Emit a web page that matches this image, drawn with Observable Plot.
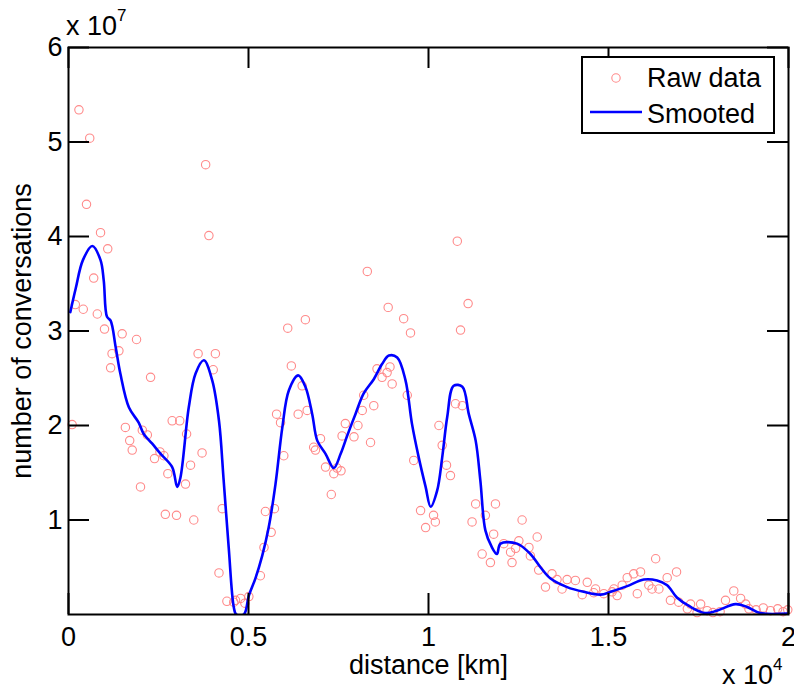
<!DOCTYPE html>
<html><head><meta charset="utf-8">
<script src="https://cdn.jsdelivr.net/npm/d3@7"></script>
<script src="https://cdn.jsdelivr.net/npm/@observablehq/plot@0.6"></script>
<style>
body{margin:0;background:#fff;}
#wrap{position:relative;width:794px;height:689px;font-family:"Liberation Sans",Arial,sans-serif;background:#fff;}
.note{position:absolute;font-size:27px;color:#000;line-height:1;white-space:nowrap;}
.note sup{font-size:17px;vertical-align:0;position:relative;top:-14px;}
</style></head><body><div id="wrap"></div>
<script>
// Raw data: distance in km, number of conversations
const rawDistance = [
  100,190,290,410,500,590,700,800,890,1000,
  1090,1170,1210,1400,1490,1580,1700,1770,1890,2000,
  2050,2190,2280,2390,2540,2650,2690,2760,2880,3000,
  3090,3250,3280,3390,3480,3600,3710,3810,3900,4020,
  4080,4180,4270,4400,4590,4640,4780,4900,5010,5330,
  5430,5470,5630,5720,5780,5890,5980,6090,6190,6380,
  6490,6580,6630,6810,6860,7000,7140,7300,7370,7460,
  7570,7600,7690,7930,8040,8160,8200,8300,8390,8480,
  8570,8710,8850,8880,8930,8990,9310,9410,9500,9590,
  9780,9920,10140,10190,10290,10380,10500,10610,10750,10800,
  10890,10940,11100,11210,11310,11490,11580,11720,11810,11860,
  12090,12280,12320,12420,12510,12600,12790,12830,13020,13060,
  13250,13430,13570,13710,13850,14080,14270,14410,14590,14640,
  14870,15100,15150,15240,15380,15520,15700,15800,15890,16120,
  16210,16310,16400,16630,16720,16890,16950,17190,17280,17460,
  17560,17740,17900,18100,18250,18480,18670,18810,18900,19100,
  19300,19500,19700,19850,19980
];
const rawConversations = [
  2.01e7,3.28e7,5.34e7,3.23e7,4.34e7,5.04e7,3.56e7,3.18e7,4.04e7,3.02e7,
  3.87e7,2.61e7,2.76e7,2.79e7,2.97e7,1.98e7,1.84e7,1.74e7,2.91e7,1.35e7,
  1.95e7,1.90e7,2.51e7,1.65e7,1.72e7,1.68e7,1.06e7,1.49e7,2.05e7,1.05e7,
  2.05e7,1.38e7,1.91e7,1.58e7,1.00e7,2.76e7,1.71e7,4.76e7,4.01e7,2.59e7,
  2.76e7,0.44e7,1.12e7,0.14e7,0.13e7,0.15e7,0.17e7,0.12e7,0.19e7,0.41e7,
  0.71e7,1.09e7,0.87e7,1.12e7,2.12e7,2.03e7,1.68e7,3.03e7,2.63e7,2.12e7,
  2.42e7,3.12e7,2.16e7,1.77e7,1.74e7,1.86e7,1.56e7,1.27e7,1.49e7,1.55e7,
  1.52e7,1.89e7,2.02e7,1.88e7,2.00e7,2.16e7,2.32e7,3.63e7,1.82e7,2.21e7,
  2.60e7,2.51e7,2.56e7,3.25e7,2.62e7,2.44e7,3.13e7,2.32e7,2.98e7,1.63e7,
  1.10e7,0.92e7,1.05e7,0.98e7,2.00e7,1.79e7,1.58e7,1.47e7,2.23e7,3.95e7,
  3.01e7,2.21e7,3.29e7,0.98e7,1.17e7,0.64e7,1.05e7,0.55e7,0.85e7,1.17e7,
  0.75e7,0.66e7,0.55e7,0.70e7,0.78e7,1.00e7,0.71e7,0.62e7,0.82e7,0.47e7,
  0.29e7,0.43e7,0.37e7,0.27e7,0.37e7,0.36e7,0.21e7,0.34e7,0.23e7,0.27e7,
  0.22e7,0.24e7,0.27e7,0.20e7,0.31e7,0.39e7,0.43e7,0.22e7,0.45e7,0.31e7,
  0.27e7,0.59e7,0.27e7,0.39e7,0.15e7,0.45e7,0.13e7,0.06e7,0.11e7,0.02e7,
  0.11e7,0.04e7,0.02e7,0.03e7,0.15e7,0.25e7,0.17e7,0.11e7,0.06e7,0.05e7,
  0.07e7,0.04e7,0.06e7,0.03e7,0.05e7
];
// Smoothed curve
const smoothDistance = [
  50,200,400,660,890,980,1070,1170,1310,1440,1680,1950,2090,2320,2560,2880,3020,3110,3340,3530,
  3760,3990,4180,4310,4450,4590,4660,4870,5010,5190,5380,5560,5750,5940,6120,6380,6580,6770,6910,7140,
  7370,7560,7740,7970,8200,8480,8710,8900,9130,9360,9540,9730,9920,10060,10240,10380,10520,10700,10940,11120,
  11310,11440,11580,11750,11900,12000,12460,12830,13110,13390,13850,14310,14780,15060,15520,15980,16350,16630,16900,17280,
  17690,18010,18530,18850,19220,19960
];
const smoothConversations = [
  3.20e7,3.45e7,3.75e7,3.90e7,3.75e7,3.53e7,3.15e7,3.11e7,2.83e7,2.55e7,2.19e7,2.03e7,1.91e7,1.81e7,1.70e7,1.56e7,1.35e7,1.45e7,2.19e7,2.55e7,
  2.69e7,2.48e7,2.05e7,1.42e7,0.71e7,0.08e7,0.00e7,0.00e7,0.20e7,0.38e7,0.62e7,0.92e7,1.38e7,1.98e7,2.37e7,2.53e7,2.41e7,2.12e7,1.84e7,1.70e7,
  1.55e7,1.70e7,1.89e7,2.12e7,2.34e7,2.49e7,2.65e7,2.74e7,2.72e7,2.48e7,2.02e7,1.66e7,1.35e7,1.14e7,1.31e7,1.66e7,2.09e7,2.42e7,2.41e7,2.12e7,
  1.84e7,1.42e7,0.89e7,0.72e7,0.64e7,0.75e7,0.75e7,0.64e7,0.50e7,0.38e7,0.29e7,0.24e7,0.21e7,0.24e7,0.30e7,0.37e7,0.36e7,0.31e7,0.18e7,0.08e7,
  0.015e7,0.04e7,0.11e7,0.08e7,0.015e7,0.01e7
];
const xTicks = [0, 5000, 10000, 15000, 20000];
const yTicks = [1e7, 2e7, 3e7, 4e7, 5e7, 6e7];
const xLabel = "distance [km]";
const yLabel = "number of conversations";
const legendLabels = ["Raw data", "Smooted"];

const raw = rawDistance.map((d, i) => ({d, c: rawConversations[i]}));
const smooth = smoothDistance.map((d, i) => ({d, c: smoothConversations[i]}));

const FONT = "Liberation Sans, Arial, sans-serif";
const W = 794, H = 689, ML = 68, MR = 6, MT = 47, MB = 75;
const TICK = 21;
const frameW = W - ML - MR, frameH = H - MT - MB;
const plot = Plot.plot({
  width: W, height: H,
  marginLeft: ML, marginRight: MR, marginTop: MT, marginBottom: MB,
  style: {fontFamily: FONT, fontSize: "27px", color: "#000", background: "#fff"},
  x: {domain: [0, 20000]},
  y: {domain: [0, 6e7]},
  marks: [
    Plot.dot(raw, {x: "d", y: "c", r: 4.2, stroke: "#ff8a8a", strokeWidth: 1.1, fill: "none"}),
    Plot.line(smooth, {x: "d", y: "c", stroke: "#0000ff", strokeWidth: 2.6, curve: "catmull-rom", clip: true}),
    // inward ticks: dashed grid lines that only show a short stroke at each end
    Plot.gridX({ticks: xTicks, stroke: "#000", strokeOpacity: 1, strokeWidth: 2,
      strokeDasharray: `${TICK},${frameH - 2 * TICK},${TICK}`}),
    Plot.gridY({ticks: yTicks, stroke: "#000", strokeOpacity: 1, strokeWidth: 2,
      strokeDasharray: `${TICK},${frameW - 2 * TICK},${TICK}`}),
    // tick labels
    Plot.axisX({anchor: "bottom", ticks: xTicks, tickSize: 0, tickPadding: 12, tickFormat: d => String(d / 1e4), label: null, fontSize: 27}),
    Plot.axisY({anchor: "left", ticks: yTicks, tickSize: 0, tickPadding: 6, tickFormat: d => String(d / 1e7), label: null, fontSize: 27}),
    Plot.frame({stroke: "#000", strokeWidth: 2}),
    Plot.text([xLabel], {text: d => d, frameAnchor: "bottom", dy: 40, lineAnchor: "top", textAnchor: "middle", fontSize: 27}),
    Plot.text([yLabel], {text: d => d, frameAnchor: "left", rotate: -90, dx: -46, lineAnchor: "middle", textAnchor: "middle", fontSize: 27})
  ]
});
const wrap = document.getElementById("wrap");
wrap.appendChild(plot);

const n1 = document.createElement("div");
n1.className = "note"; n1.style.left = "66px"; n1.style.top = "13px";
n1.innerHTML = "x 10<sup>7</sup>";
wrap.appendChild(n1);
const n2 = document.createElement("div");
n2.className = "note"; n2.style.left = "722px"; n2.style.top = "662px";
n2.innerHTML = "x 10<sup>4</sup>";
wrap.appendChild(n2);

// legend
const ns = "http://www.w3.org/2000/svg";
const lg = document.createElementNS(ns, "svg");
lg.setAttribute("width", 196); lg.setAttribute("height", 80);
lg.style.position = "absolute"; lg.style.left = "581px"; lg.style.top = "56px";
lg.innerHTML = `<rect x="1" y="1" width="192" height="76" fill="#fff" stroke="#000" stroke-width="2"/>
<circle cx="35" cy="22" r="4.2" fill="none" stroke="#ff8a8a" stroke-width="1.1"/>
<line x1="9" x2="61" y1="56" y2="56" stroke="#0000ff" stroke-width="2.6"/>
<text x="66" y="31" font-family="${FONT}" font-size="27">${legendLabels[0]}</text>
<text x="66" y="67" font-family="${FONT}" font-size="27">${legendLabels[1]}</text>`;
wrap.appendChild(lg);
</script></body></html>
